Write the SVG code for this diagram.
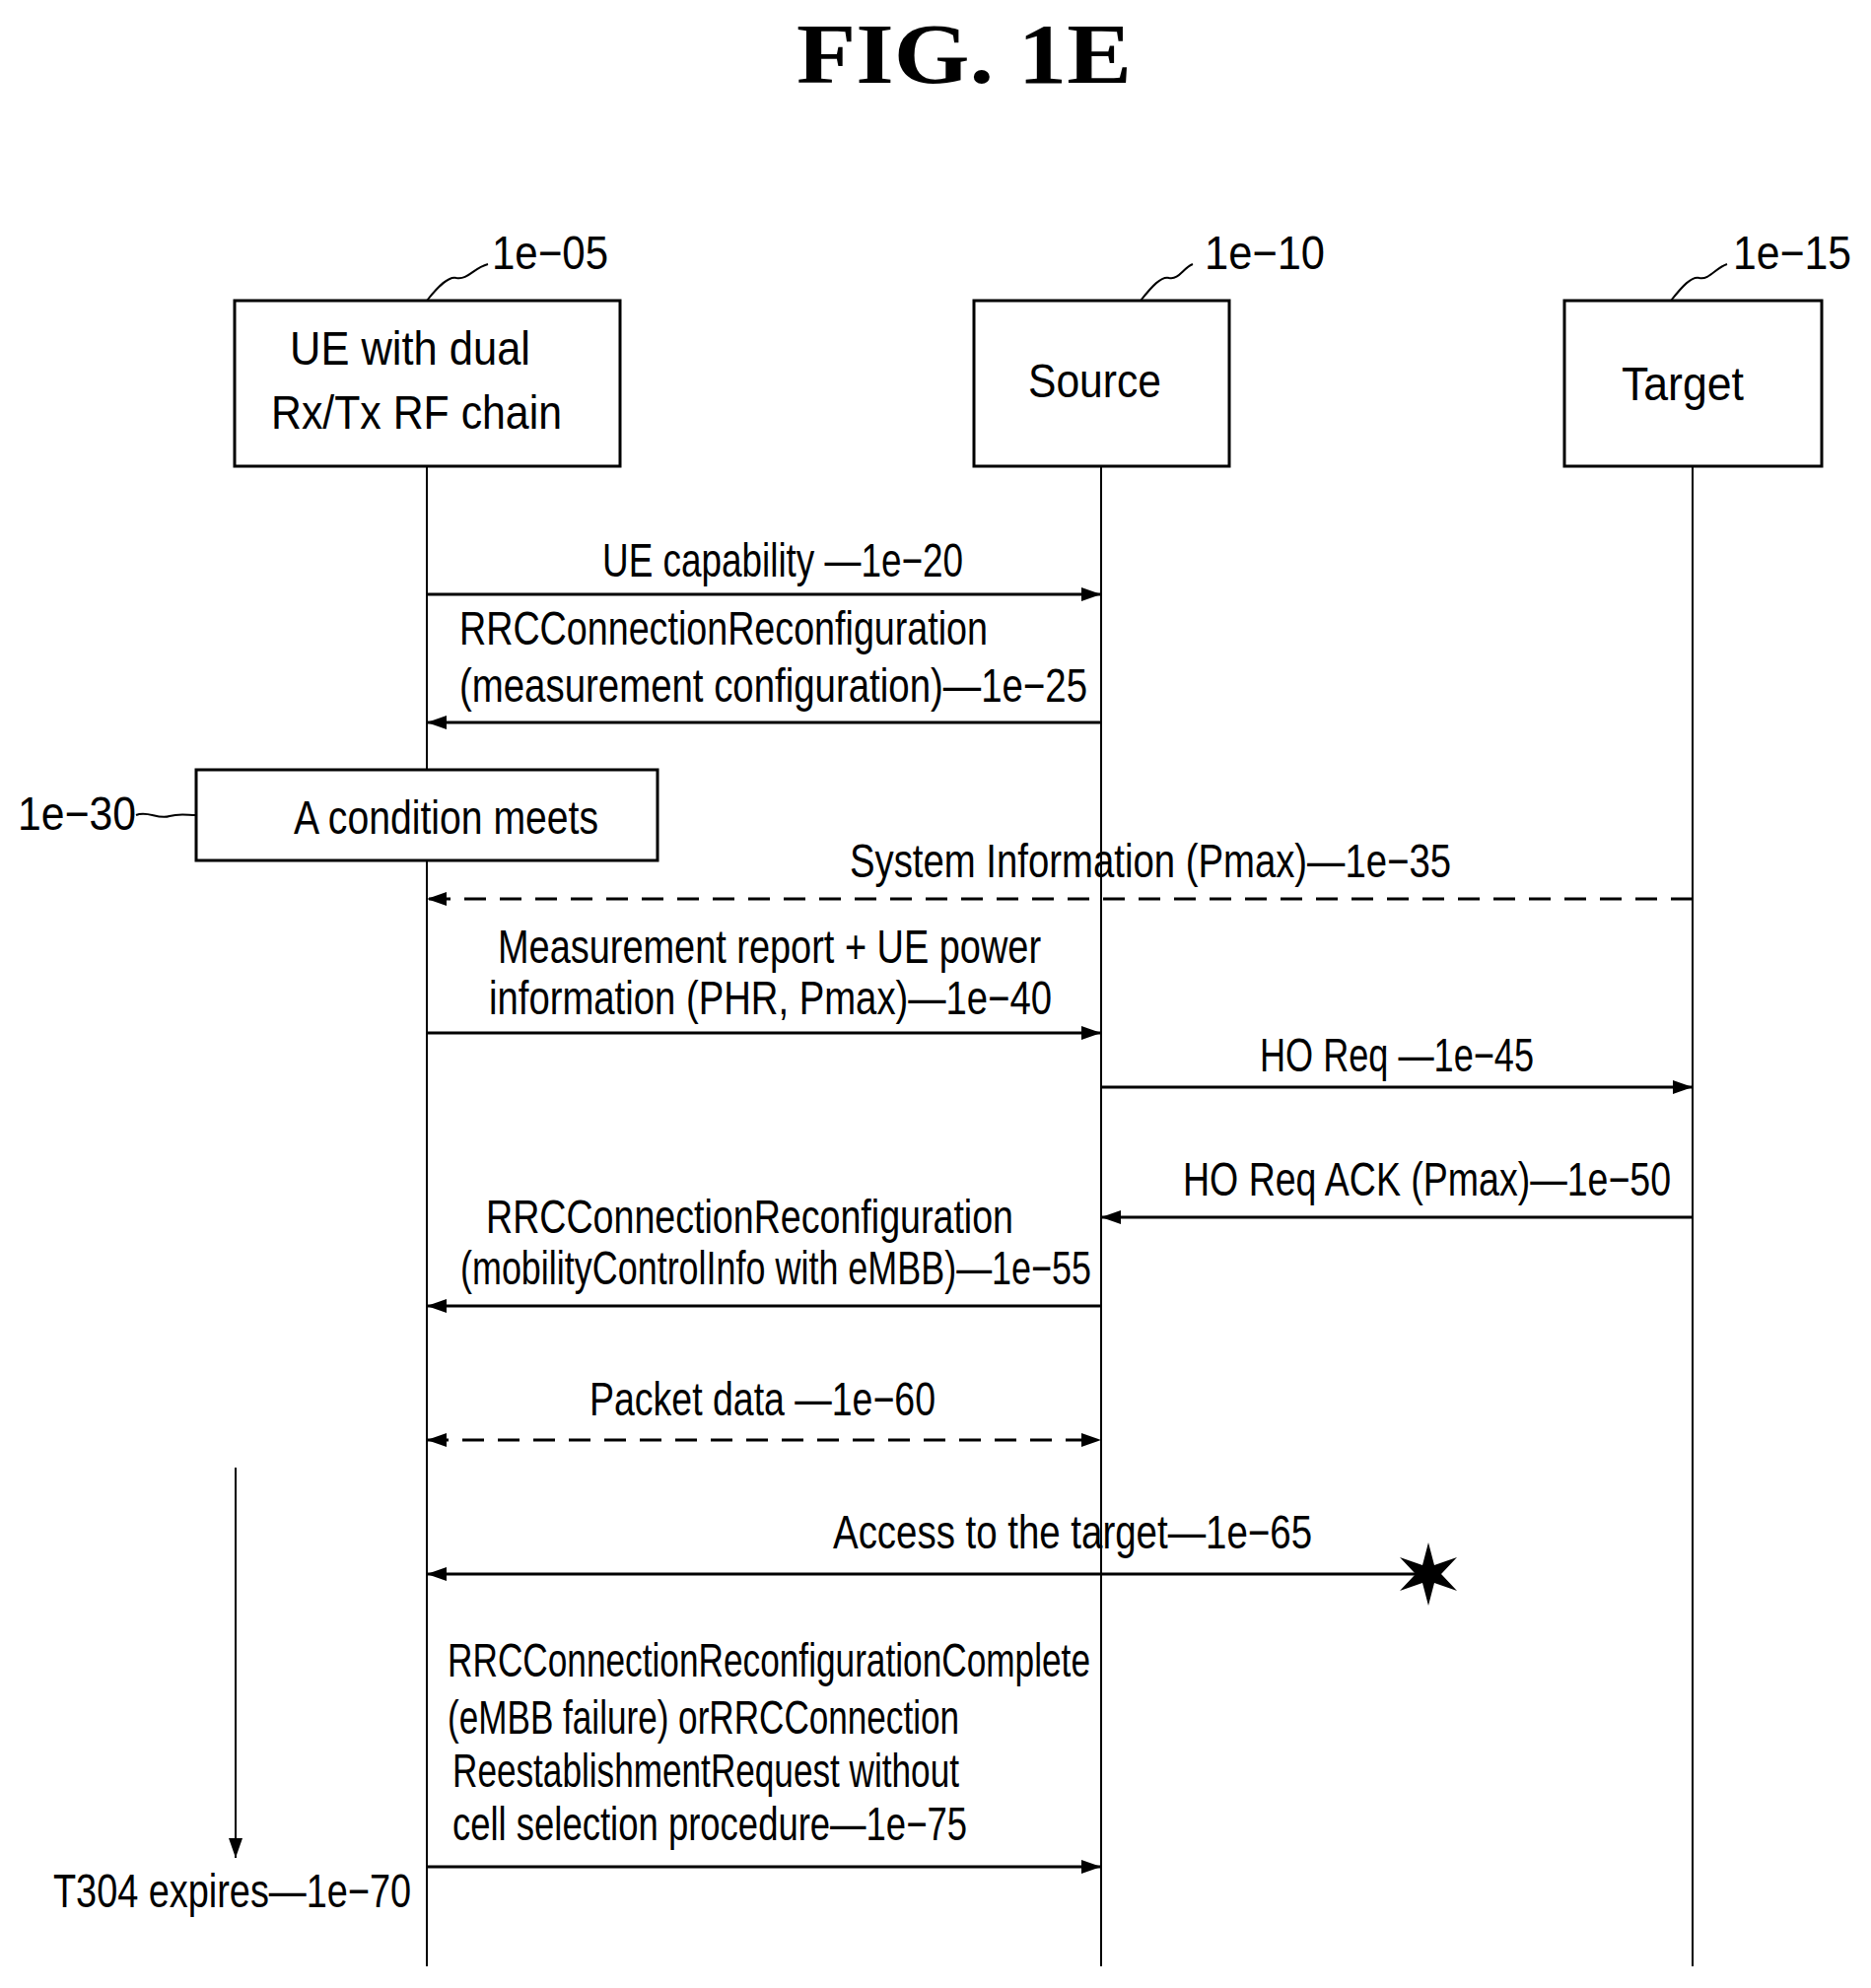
<svg xmlns="http://www.w3.org/2000/svg" width="1898" height="2017" viewBox="0 0 1898 2017">
<style>
text{font-family:"Liberation Sans",Arial,sans-serif;font-size:48px;fill:#000}
.t{font-family:"Liberation Serif","Times New Roman",serif;font-size:86px;font-weight:bold}
.box{fill:#fff;stroke:#000;stroke-width:3}
.life{stroke:#000;stroke-width:2;fill:none}
.msg{stroke:#000;stroke-width:3;fill:none}
.dash{stroke-dasharray:22 14}
.lead{stroke:#000;stroke-width:2;fill:none}
</style>
<defs>
<marker id="ah" viewBox="0 0 20 14" refX="20" refY="7" markerWidth="20" markerHeight="14" markerUnits="userSpaceOnUse" orient="auto-start-reverse">
<path d="M0,0 L20,7 L0,14 z" fill="#000"/>
</marker>
</defs>
<rect width="1898" height="2017" fill="#fff"/>
<text class="t" x="808" y="84" textLength="340" lengthAdjust="spacingAndGlyphs">FIG.  1E</text>

<g id="ue">
<rect class="box" x="238" y="305" width="391" height="168"/>
<text x="294" y="370" textLength="244" lengthAdjust="spacingAndGlyphs">UE with dual</text>
<text x="275" y="435" textLength="295" lengthAdjust="spacingAndGlyphs">Rx/Tx RF chain</text>
<path class="lead" d="M433,305 C445,290 455,280 463,282 C475,284 480,272 495,268"/>
<text x="499" y="273" textLength="118" lengthAdjust="spacingAndGlyphs">1e−05</text>
<line class="life" x1="433" y1="473" x2="433" y2="1995"/>
</g>
<g id="source">
<rect class="box" x="988" y="305" width="259" height="168"/>
<text x="1043" y="403" textLength="135" lengthAdjust="spacingAndGlyphs">Source</text>
<path class="lead" d="M1157,305 C1169,290 1178,280 1186,282 C1196,284 1200,272 1210,268"/>
<text x="1222" y="273" textLength="122" lengthAdjust="spacingAndGlyphs">1e−10</text>
<line class="life" x1="1117" y1="473" x2="1117" y2="1995"/>
</g>
<g id="target">
<rect class="box" x="1587" y="305" width="261" height="168"/>
<text x="1645" y="406" textLength="124" lengthAdjust="spacingAndGlyphs">Target</text>
<path class="lead" d="M1695,305 C1707,290 1716,280 1724,282 C1734,284 1740,272 1752,268"/>
<text x="1758" y="273" textLength="120" lengthAdjust="spacingAndGlyphs">1e−15</text>
<line class="life" x1="1717" y1="473" x2="1717" y2="1995"/>
</g>
<g id="cond">
<rect class="box" x="199" y="781" width="468" height="92"/>
<text x="298" y="846" textLength="309" lengthAdjust="spacingAndGlyphs">A condition meets</text>
<text x="18" y="842" textLength="120" lengthAdjust="spacingAndGlyphs">1e−30</text>
<path class="lead" d="M138,827 C150,822 160,832 172,828 C182,825 190,827 199,827"/>
</g>
<g id="star">
<path d="M1449,1565 L1455,1588 L1478,1580 L1462,1597 L1478,1614 L1455,1606 L1449,1629 L1443,1606 L1420,1614 L1436,1597 L1420,1580 L1443,1588 z" fill="#000"/>
</g>
<g id="timer">
<line class="life" x1="239" y1="1489" x2="239" y2="1885" marker-end="url(#ah)"/>
<text x="54" y="1935" textLength="363" lengthAdjust="spacingAndGlyphs">T304 expires—1e−70</text>
</g>
<g id="connectors">
<text x="611" y="585" textLength="366" lengthAdjust="spacingAndGlyphs">UE capability —1e−20</text>
<line class="msg" x1="433" y1="603" x2="1117" y2="603" marker-end="url(#ah)"/>
<text x="466" y="654" textLength="536" lengthAdjust="spacingAndGlyphs">RRCConnectionReconfiguration</text>
<text x="466" y="712" textLength="637" lengthAdjust="spacingAndGlyphs">(measurement configuration)—1e−25</text>
<line class="msg" x1="1117" y1="733" x2="433" y2="733" marker-end="url(#ah)"/>
<text x="862" y="890" textLength="610" lengthAdjust="spacingAndGlyphs">System Information (Pmax)—1e−35</text>
<line class="msg dash" x1="1717" y1="912" x2="433" y2="912" stroke-width="2" marker-end="url(#ah)"/>
<text x="505" y="977" textLength="551" lengthAdjust="spacingAndGlyphs">Measurement report + UE power</text>
<text x="496" y="1029" textLength="571" lengthAdjust="spacingAndGlyphs">information (PHR, Pmax)—1e−40</text>
<line class="msg" x1="433" y1="1048" x2="1117" y2="1048" marker-end="url(#ah)"/>
<text x="1278" y="1087" textLength="278" lengthAdjust="spacingAndGlyphs">HO Req —1e−45</text>
<line class="msg" x1="1117" y1="1103" x2="1717" y2="1103" marker-end="url(#ah)"/>
<text x="1200" y="1213" textLength="495" lengthAdjust="spacingAndGlyphs">HO Req ACK (Pmax)—1e−50</text>
<line class="msg" x1="1717" y1="1235" x2="1117" y2="1235" marker-end="url(#ah)"/>
<text x="493" y="1251" textLength="535" lengthAdjust="spacingAndGlyphs">RRCConnectionReconfiguration</text>
<text x="467" y="1303" textLength="640" lengthAdjust="spacingAndGlyphs">(mobilityControlInfo with eMBB)—1e−55</text>
<line class="msg" x1="1117" y1="1325" x2="433" y2="1325" marker-end="url(#ah)"/>
<text x="598" y="1436" textLength="351" lengthAdjust="spacingAndGlyphs">Packet data —1e−60</text>
<line class="msg dash" x1="433" y1="1461" x2="1117" y2="1461" marker-start="url(#ah)" marker-end="url(#ah)"/>
<text x="845" y="1571" textLength="486" lengthAdjust="spacingAndGlyphs">Access to the target—1e−65</text>
<line class="msg" x1="1449" y1="1597" x2="433" y2="1597" marker-end="url(#ah)"/>
<text x="454" y="1701" textLength="652" lengthAdjust="spacingAndGlyphs">RRCConnectionReconfigurationComplete</text>
<text x="454" y="1759" textLength="519" lengthAdjust="spacingAndGlyphs">(eMBB failure) orRRCConnection</text>
<text x="459" y="1813" textLength="514" lengthAdjust="spacingAndGlyphs">ReestablishmentRequest without</text>
<text x="459" y="1867" textLength="522" lengthAdjust="spacingAndGlyphs">cell selection procedure—1e−75</text>
<line class="msg" x1="433" y1="1894" x2="1117" y2="1894" marker-end="url(#ah)"/>
</g>
</svg>
